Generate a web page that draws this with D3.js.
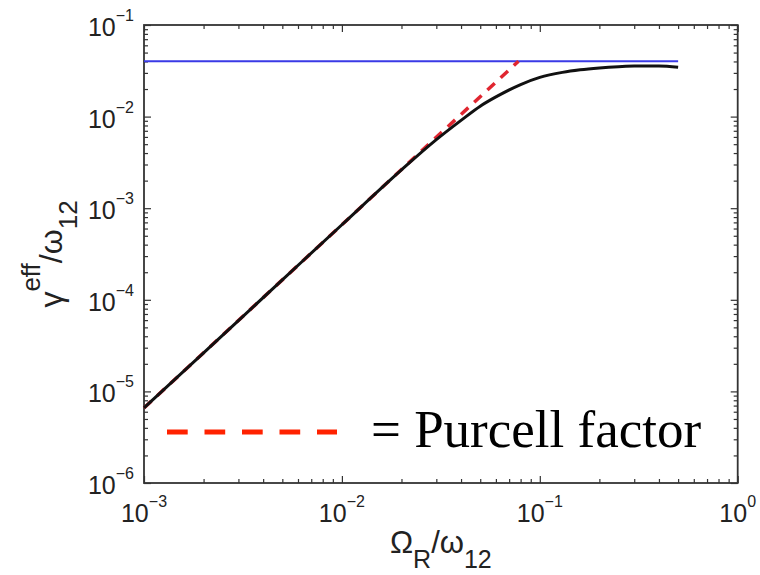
<!DOCTYPE html>
<html lang="en">
<head>
<meta charset="UTF-8">
<script src="https://cdn.jsdelivr.net/npm/d3@7"></script>
<title>Purcell factor</title>
<style>
  body { margin: 0; background: #fff; }
</style>
</head>
<body>
<script>
// data
const omegaR   = [0.001, 0.002, 0.005, 0.01, 0.02, 0.03, 0.04, 0.05, 0.06, 0.08, 0.1, 0.13, 0.16, 0.2, 0.25, 0.3, 0.4, 0.5];
const gammaEff = [6.6e-6, 2.64e-5, 1.65e-4, 6.6e-4, 2.62e-3, 5.6e-3, 9.1e-3, 1.3e-2, 1.64e-2, 2.24e-2, 2.68e-2, 3.04e-2, 3.24e-2, 3.39e-2, 3.5e-2, 3.56e-2, 3.56e-2, 3.45e-2];
const purcellOmega = [0.001, 0.078];
const purcellGamma = [6.6e-6, 0.0402];
const limitOmega = [0.001, 0.5];
const limitGamma = [0.0402, 0.0402];
const xTickExp = [-3, -2, -1, 0];
const yTickExp = [-6, -5, -4, -3, -2, -1];

const W = 760, H = 575;
const L = 144, R = 737.7, T = 25, B = 483;

const svg = d3.select("body").append("svg")
    .attr("width", W).attr("height", H);

const x = d3.scaleLog().domain([1e-3, 1]).range([L, R]);
const y = d3.scaleLog().domain([1e-6, 1e-1]).range([B, T]);

// minor ticks 2..9 per decade
function minors(lo, hi) {
  const out = [];
  for (let e = lo; e < hi; e++)
    for (let m = 2; m <= 9; m++) out.push(m * Math.pow(10, e));
  return out;
}
const xMaj = xTickExp.map(e => Math.pow(10, e));
const yMaj = yTickExp.map(e => Math.pow(10, e));
const xMin = minors(-3, 0), yMin = minors(-6, -1);

const axisCol = "#333";
function styleAxis(g) {
  g.select(".domain").remove();
  g.selectAll("line").attr("stroke", axisCol).attr("stroke-width", 1.2);
}
const major = 7, minor = 4;
[[d3.axisBottom, `translate(0,${B})`, x, xMaj, xMin],
 [d3.axisTop, `translate(0,${T})`, x, xMaj, xMin],
 [d3.axisLeft, `translate(${L},0)`, y, yMaj, yMin],
 [d3.axisRight, `translate(${R},0)`, y, yMaj, yMin]].forEach(([ax, tr, sc, maj, mn]) => {
  svg.append("g").attr("transform", tr)
    .call(ax(sc).tickValues(maj).tickSize(-major).tickFormat(""))
    .call(styleAxis);
  svg.append("g").attr("transform", tr)
    .call(ax(sc).tickValues(mn).tickSize(-minor).tickFormat(""))
    .call(styleAxis);
});

// box
svg.append("rect")
    .attr("x", L).attr("y", T).attr("width", R - L).attr("height", B - T)
    .attr("fill", "none").attr("stroke", axisCol).attr("stroke-width", 1.8);

const sans = "'Liberation Sans', Arial, Helvetica, sans-serif";

// x tick labels
const xl = svg.append("g").selectAll("text").data(xTickExp).enter().append("text")
    .attr("x", d => x(Math.pow(10, d)))
    .attr("y", B + 38.5)
    .attr("text-anchor", "middle")
    .attr("font-family", sans).attr("fill", "#222");
xl.append("tspan").attr("font-size", 25).text("10");
xl.append("tspan").attr("font-size", 16).attr("dy", -15).text(d => d < 0 ? "\u2212" + (-d) : d);

// y tick labels
const yl = svg.append("g").selectAll("text").data(yTickExp).enter().append("text")
    .attr("x", 134)
    .attr("y", d => y(Math.pow(10, d)) + 11)
    .attr("text-anchor", "end")
    .attr("font-family", sans).attr("fill", "#222");
yl.append("tspan").attr("font-size", 25).text("10");
yl.append("tspan").attr("font-size", 16).attr("dy", -15).text(d => "\u2212" + (-d));

// lines
const line = d3.line().x(d => x(d[0])).y(d => y(d[1]));

svg.append("path")
    .datum(limitOmega.map((o, i) => [o, limitGamma[i]]))
    .attr("d", line)
    .attr("fill", "none").attr("stroke", "#3a3ae6").attr("stroke-width", 2);

svg.append("path")
    .datum(purcellOmega.map((o, i) => [o, purcellGamma[i]]))
    .attr("d", line)
    .attr("fill", "none").attr("stroke", "#e02630").attr("stroke-width", 3.5)
    .attr("stroke-dasharray", "10,8");

svg.append("path")
    .datum(omegaR.map((o, i) => [o, gammaEff[i]]))
    .attr("d", line.curve(d3.curveMonotoneX))
    .attr("fill", "none").attr("stroke", "#111").attr("stroke-width", 3);

// legend
svg.append("line")
    .attr("x1", 167).attr("x2", 337).attr("y1", 432).attr("y2", 432)
    .attr("stroke", "#ff2200").attr("stroke-width", 5)
    .attr("stroke-dasharray", "20.7,16.8");
svg.append("text")
    .attr("x", 371).attr("y", 447)
    .attr("font-family", "'Liberation Serif', 'Times New Roman', serif")
    .attr("font-size", 53).attr("fill", "#000")
    .text("= Purcell factor");

// axis labels
const xt = svg.append("text")
    .attr("x", (L + R) / 2).attr("y", 553)
    .attr("text-anchor", "middle")
    .attr("font-family", sans).attr("fill", "#222");
xt.append("tspan").attr("font-size", 31).text("\u03A9");
xt.append("tspan").attr("font-size", 25).attr("dy", 15).text("R");
xt.append("tspan").attr("font-size", 31).attr("dy", -15).text("/\u03C9");
xt.append("tspan").attr("font-size", 25).attr("dy", 15).text("12");

const yt = svg.append("text")
    .attr("transform", `translate(62,${(T + B) / 2}) rotate(-90)`)
    .attr("text-anchor", "middle")
    .attr("font-family", sans).attr("fill", "#222");
yt.append("tspan").attr("font-size", 32).text("\u03B3");
yt.append("tspan").attr("font-size", 26).attr("dy", -22).text("eff");
yt.append("tspan").attr("font-size", 32).attr("dy", 22).text("/\u03C9");
yt.append("tspan").attr("font-size", 26).attr("dy", 15).text("12");
</script>
</body>
</html>
